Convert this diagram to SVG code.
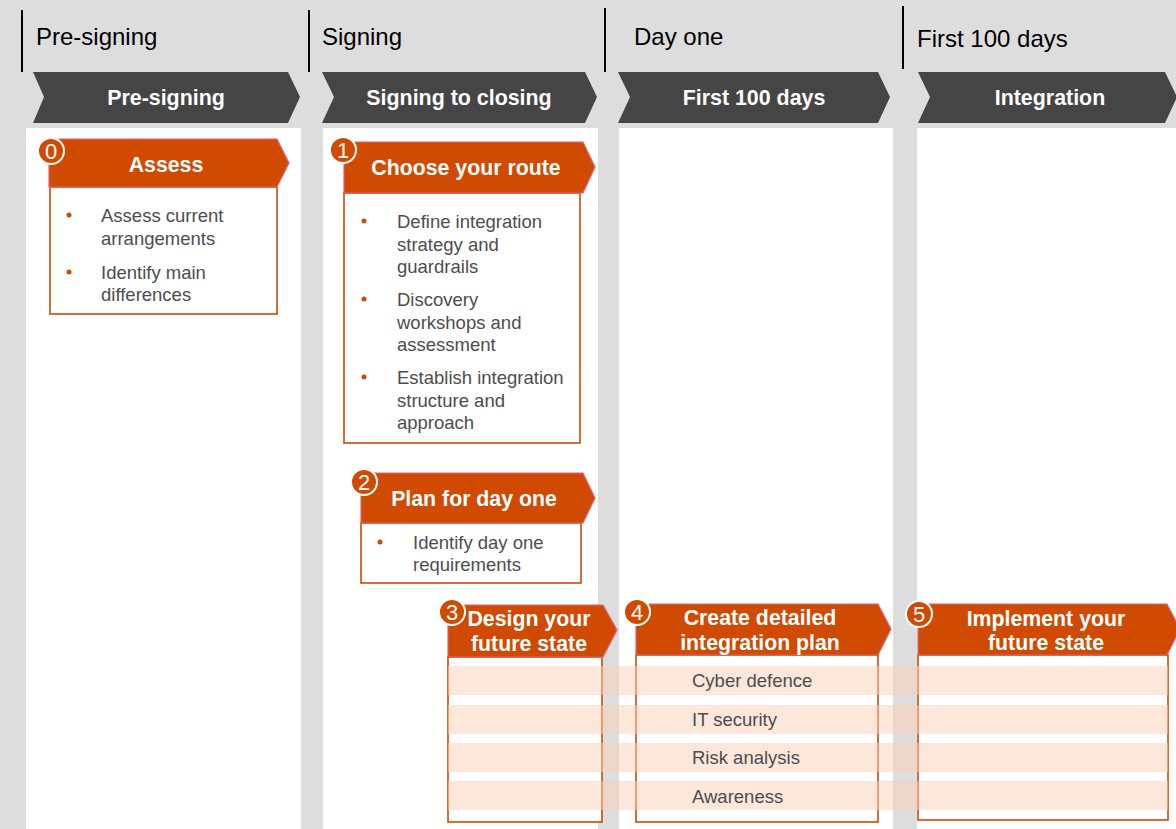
<svg xmlns="http://www.w3.org/2000/svg" width="1176" height="829" viewBox="0 0 1176 829">
<style>
.phase{font-family:"Liberation Sans",Arial,sans-serif;font-size:24px;fill:#000}
.chev{fill:#454545}
.chevt{font-family:"Liberation Sans",Arial,sans-serif;font-size:21.4px;font-weight:bold;fill:#fff;text-anchor:middle}
.hdr{fill:#d04a02;stroke:#e0607a;stroke-width:1.2}
.hdrt{font-family:"Liberation Sans",Arial,sans-serif;font-size:21.3px;font-weight:bold;fill:#fff;text-anchor:middle}
.body{fill:#fff;stroke:#d04a02;stroke-width:1.6}
.num{fill:#d04a02;stroke:#fff;stroke-width:2}
.numt{font-family:"Liberation Sans",Arial,sans-serif;font-size:22px;fill:#fff;text-anchor:middle}
.txt{font-family:"Liberation Sans",Arial,sans-serif;font-size:18.5px;fill:#4d4d4d}
.dot{fill:#d04a02}
.band{fill:#fbcfb7;opacity:0.5}
.div{stroke:#000;stroke-width:2}
</style>
<rect x="0" y="0" width="1176" height="829" fill="#dddddd"/>
<g id="columns">
<rect x="26" y="128" width="275" height="701" fill="#fff"/>
<rect x="323" y="128" width="275" height="701" fill="#fff"/>
<rect x="619" y="128" width="274" height="701" fill="#fff"/>
<rect x="917" y="128" width="259" height="701" fill="#fff"/>
</g>
<g id="phases">
<line class="div" x1="22" y1="10" x2="22" y2="72"/>
<line class="div" x1="309" y1="10" x2="309" y2="72"/>
<line class="div" x1="605" y1="8" x2="605" y2="72"/>
<line class="div" x1="903" y1="6" x2="903" y2="69"/>
<text class="phase" x="36" y="45">Pre-signing</text>
<text class="phase" x="322" y="45">Signing</text>
<text class="phase" x="634" y="45">Day one</text>
<text class="phase" x="917" y="47">First 100 days</text>
</g>
<g id="chevrons">
<polygon class="chev" points="33,72 288,72 300,97 288,123 33,123 44,97"/>
<polygon class="chev" points="322,72 585,72 597,97 585,123 322,123 334,97"/>
<polygon class="chev" points="618,72 878,72 890,97 878,123 618,123 630,97"/>
<polygon class="chev" points="918,72 1165,72 1177,97 1165,123 918,123 930,97"/>
<text class="chevt" x="166" y="105">Pre-signing</text>
<text class="chevt" x="459" y="105">Signing to closing</text>
<text class="chevt" x="754" y="105">First 100 days</text>
<text class="chevt" x="1050" y="105">Integration</text>
</g>
<g id="step0">
<rect class="body" x="50" y="187" width="227" height="127"/>
<polygon class="hdr" points="49,139 277,139 289,163 277,187 49,187"/>
<text class="hdrt" x="166" y="172">Assess</text>
<circle class="num" cx="51" cy="151" r="13"/>
<text class="numt" x="51" y="159">0</text>
<circle class="dot" cx="69" cy="215" r="2.5"/>
<text class="txt" x="101" y="222">Assess current</text>
<text class="txt" x="101" y="245">arrangements</text>
<circle class="dot" cx="69" cy="272" r="2.5"/>
<text class="txt" x="101" y="279">Identify main</text>
<text class="txt" x="101" y="301">differences</text>
</g>
<g id="step1">
<rect class="body" x="344" y="193" width="236" height="250"/>
<polygon class="hdr" points="344,142 583,142 595,167 583,193 344,193"/>
<text class="hdrt" x="466" y="175">Choose your route</text>
<circle class="num" cx="343" cy="150" r="13"/>
<text class="numt" x="343" y="158">1</text>
<circle class="dot" cx="364" cy="221" r="2.5"/>
<text class="txt" x="397" y="228">Define integration</text>
<text class="txt" x="397" y="251">strategy and</text>
<text class="txt" x="397" y="273">guardrails</text>
<circle class="dot" cx="364" cy="299" r="2.5"/>
<text class="txt" x="397" y="306">Discovery</text>
<text class="txt" x="397" y="329">workshops and</text>
<text class="txt" x="397" y="351">assessment</text>
<circle class="dot" cx="364" cy="377" r="2.5"/>
<text class="txt" x="397" y="384">Establish integration</text>
<text class="txt" x="397" y="407">structure and</text>
<text class="txt" x="397" y="429">approach</text>
</g>
<g id="step2">
<rect class="body" x="361" y="523" width="220" height="60"/>
<polygon class="hdr" points="361,473 583,473 595,498 583,523 361,523"/>
<text class="hdrt" x="474" y="506">Plan for day one</text>
<circle class="num" cx="364" cy="482" r="13"/>
<text class="numt" x="364" y="490">2</text>
<circle class="dot" cx="380" cy="542" r="2.5"/>
<text class="txt" x="413" y="549">Identify day one</text>
<text class="txt" x="413" y="571">requirements</text>
</g>
<g id="step3">
<rect class="body" x="448" y="657" width="154" height="165"/>
<polygon class="hdr" points="448,605 603,605 617,630 603,657 448,657"/>
<text class="hdrt" x="529" y="626">Design your</text>
<text class="hdrt" x="529" y="651">future state</text>
<circle class="num" cx="452" cy="612" r="13"/>
<text class="numt" x="452" y="620">3</text>
</g>
<g id="step4">
<rect class="body" x="636" y="655" width="242" height="167"/>
<polygon class="hdr" points="636,604 878,604 891,629 878,655 636,655"/>
<text class="hdrt" x="760" y="625">Create detailed</text>
<text class="hdrt" x="760" y="650">integration plan</text>
<circle class="num" cx="637" cy="612" r="13"/>
<text class="numt" x="637" y="620">4</text>
</g>
<g id="step5">
<rect class="body" x="918" y="655" width="250" height="165"/>
<polygon class="hdr" points="918,604 1167,604 1180,629 1167,655 918,655"/>
<text class="hdrt" x="1046" y="626">Implement your</text>
<text class="hdrt" x="1046" y="650">future state</text>
<circle class="num" cx="919" cy="614" r="13"/>
<text class="numt" x="919" y="622">5</text>
</g>
<g id="bands">
<rect class="band" x="448" y="666" width="720" height="29"/>
<rect class="band" x="448" y="705" width="720" height="29"/>
<rect class="band" x="448" y="743" width="720" height="29"/>
<rect class="band" x="448" y="781" width="720" height="29"/>
<text class="txt" x="692" y="687">Cyber defence</text>
<text class="txt" x="692" y="726">IT security</text>
<text class="txt" x="692" y="764">Risk analysis</text>
<text class="txt" x="692" y="803">Awareness</text>
</g>
<g id="connectors"/>
</svg>
